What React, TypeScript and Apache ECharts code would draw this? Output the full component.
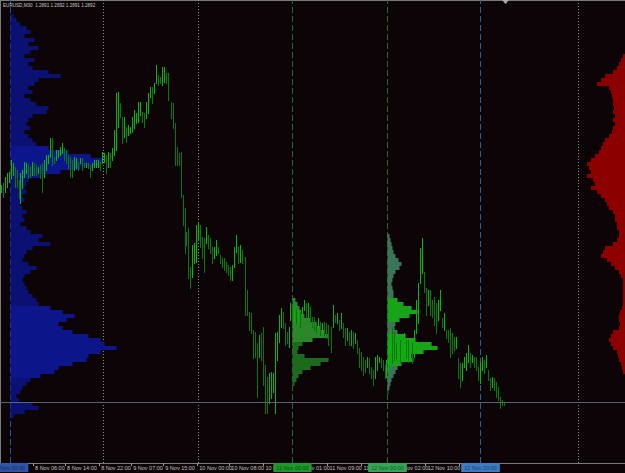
import { useEffect, useRef } from "react";
import * as echarts from "echarts";

// ---------- data ----------
const SLOT_COUNT = 312; // bar slots across the window (M30 bars)

const barHigh = [
  1.3107, 1.3109, 1.3115, 1.3119, 1.3120, 1.3132, 1.3129, 1.3125, 1.3122, 1.3112,
  1.3119, 1.3122, 1.3130, 1.3129, 1.3127, 1.3125, 1.3130, 1.3129, 1.3127, 1.3125,
  1.3127, 1.3129, 1.3132, 1.3137, 1.3137, 1.3154, 1.3154, 1.3135, 1.3142, 1.3142,
  1.3145, 1.3149, 1.3144, 1.3142, 1.3137, 1.3135, 1.3132, 1.3135, 1.3134, 1.3130,
  1.3134, 1.3134, 1.3129, 1.3129, 1.3129, 1.3127, 1.3129, 1.3132, 1.3132, 1.3132,
  1.3130, 1.3140, 1.3139, 1.3137, 1.3140, 1.3139, 1.3144, 1.3162, 1.3199, 1.3200,
  1.3189, 1.3175, 1.3175, 1.3165, 1.3167, 1.3165, 1.3175, 1.3182, 1.3179, 1.3190,
  1.3190, 1.3180, 1.3179, 1.3190, 1.3199, 1.3205, 1.3205, 1.3209, 1.3227, 1.3217,
  1.3215, 1.3225, 1.3225, 1.3219, 1.3219, 1.3190, 1.3189, 1.3169, 1.3145, 1.3139,
  1.3140, 1.3097, 1.3084, 1.3060, 1.3064, 1.3025, 1.3047, 1.3049, 1.3067, 1.3070,
  1.3067, 1.3055, 1.3054, 1.3065, 1.3057, 1.3054, 1.3045, 1.3045, 1.3052, 1.3045,
  1.3037, 1.3034, 1.3034, 1.3030, 1.3027, 1.3025, 1.3027, 1.3045, 1.3057, 1.3045,
  1.3047, 1.3042, 1.3035, 1.3002, 1.2980, 1.2979, 1.2962, 1.2960, 1.2949, 1.2957,
  1.2959, 1.2965, 1.2927, 1.2915, 1.2919, 1.2920, 1.2919, 1.2959, 1.2960, 1.2977,
  1.2984, 1.2980, 1.2969, 1.2960, 1.2965, 1.2989, 1.2984, 1.2985, 1.2982, 1.2984,
  1.2980, 1.2985, 1.2992, 1.2989, 1.2989, 1.2985, 1.2975, 1.2975, 1.2970, 1.2974,
  1.2970, 1.2969, 1.2970, 1.2969, 1.2967, 1.2965, 1.2987, 1.2977, 1.2979, 1.2972,
  1.2979, 1.2969, 1.2964, 1.2964, 1.2960, 1.2962, 1.2960, 1.2959, 1.2952, 1.2944,
  1.2940, 1.2935, 1.2932, 1.2935, 1.2934, 1.2925, 1.2922, 1.2935, 1.2937, 1.2935,
  1.2934, 1.2932, 1.2927, 1.2932, 1.2949, 1.2962, 1.2965, 1.2960, 1.2949, 1.2952,
  1.2952, 1.2957, 1.2959, 1.2952, 1.2952, 1.2952, 1.2949, 1.2962, 1.2992, 1.3009,
  1.3044, 1.3054, 1.3020, 1.3004, 1.3002, 1.3002, 1.2992, 1.2995, 1.2989, 1.2992,
  1.3002, 1.2974, 1.2979, 1.2962, 1.2962, 1.2964, 1.2959, 1.2955, 1.2955, 1.2934,
  1.2929, 1.2929, 1.2935, 1.2939, 1.2947, 1.2939, 1.2937, 1.2935, 1.2935, 1.2925,
  1.2930, 1.2935, 1.2932, 1.2937, 1.2922, 1.2914, 1.2915, 1.2914, 1.2910, 1.2905,
  1.2895, 1.2892, 1.2890,
];

const barLow = [
  1.3100, 1.3095, 1.3100, 1.3105, 1.3110, 1.3114, 1.3117, 1.3105, 1.3105, 1.3094,
  1.3089, 1.3104, 1.3115, 1.3119, 1.3114, 1.3115, 1.3117, 1.3117, 1.3117, 1.3119,
  1.3114, 1.3100, 1.3115, 1.3122, 1.3129, 1.3135, 1.3127, 1.3129, 1.3132, 1.3135,
  1.3137, 1.3139, 1.3132, 1.3129, 1.3124, 1.3115, 1.3115, 1.3122, 1.3124, 1.3122,
  1.3129, 1.3122, 1.3125, 1.3125, 1.3124, 1.3115, 1.3122, 1.3125, 1.3125, 1.3125,
  1.3122, 1.3129, 1.3130, 1.3119, 1.3125, 1.3125, 1.3132, 1.3137, 1.3142, 1.3165,
  1.3175, 1.3149, 1.3155, 1.3150, 1.3157, 1.3159, 1.3160, 1.3164, 1.3169, 1.3170,
  1.3177, 1.3170, 1.3165, 1.3174, 1.3179, 1.3195, 1.3189, 1.3199, 1.3209, 1.3207,
  1.3209, 1.3207, 1.3210, 1.3209, 1.3192, 1.3174, 1.3164, 1.3127, 1.3127, 1.3127,
  1.3095, 1.3067, 1.3039, 1.3047, 1.3014, 1.3004, 1.3015, 1.3029, 1.3030, 1.3052,
  1.3045, 1.3034, 1.3020, 1.3049, 1.3044, 1.3039, 1.3029, 1.3034, 1.3037, 1.3039,
  1.3029, 1.3025, 1.3022, 1.3020, 1.3017, 1.3012, 1.3012, 1.3025, 1.3040, 1.3029,
  1.3030, 1.3029, 1.2977, 1.2977, 1.2962, 1.2959, 1.2934, 1.2935, 1.2895, 1.2935,
  1.2932, 1.2907, 1.2879, 1.2879, 1.2889, 1.2894, 1.2900, 1.2879, 1.2932, 1.2950,
  1.2965, 1.2964, 1.2947, 1.2949, 1.2945, 1.2972, 1.2967, 1.2970, 1.2969, 1.2970,
  1.2965, 1.2977, 1.2982, 1.2974, 1.2974, 1.2970, 1.2965, 1.2962, 1.2959, 1.2962,
  1.2957, 1.2959, 1.2957, 1.2954, 1.2947, 1.2940, 1.2965, 1.2970, 1.2969, 1.2962,
  1.2964, 1.2955, 1.2947, 1.2952, 1.2947, 1.2947, 1.2944, 1.2949, 1.2939, 1.2925,
  1.2922, 1.2917, 1.2920, 1.2925, 1.2919, 1.2914, 1.2907, 1.2914, 1.2922, 1.2930,
  1.2925, 1.2922, 1.2914, 1.2915, 1.2922, 1.2942, 1.2929, 1.2932, 1.2934, 1.2934,
  1.2930, 1.2934, 1.2937, 1.2935, 1.2930, 1.2935, 1.2929, 1.2935, 1.2959, 1.2969,
  1.3009, 1.3019, 1.3000, 1.2977, 1.2987, 1.2977, 1.2975, 1.2967, 1.2959, 1.2972,
  1.2982, 1.2965, 1.2962, 1.2954, 1.2950, 1.2935, 1.2939, 1.2942, 1.2944, 1.2914,
  1.2905, 1.2912, 1.2925, 1.2922, 1.2930, 1.2925, 1.2930, 1.2925, 1.2922, 1.2912,
  1.2909, 1.2922, 1.2919, 1.2925, 1.2912, 1.2902, 1.2905, 1.2902, 1.2895, 1.2892,
  1.2884, 1.2887, 1.2887,
];

const tickSlots = [16, 32, 49, 65, 81, 98, 114, 131, 147, 163, 180, 196, 212, 229, 245];
const tickLabels = [
  "8 Nov 06:00", "8 Nov 14:00", "8 Nov 22:00", "9 Nov 07:00", "9 Nov 15:00",
  "10 Nov 00:00", "10 Nov 08:00", "10 Nov 16:00", "11 Nov 01:00", "11 Nov 09:00",
  "11 Nov 17:00", "12 Nov 02:00", "12 Nov 10:00", "12 Nov 18:00", "13 Nov 03:00",
];

// volume profiles: rows every 0.0004 starting at the given top price
const PROFILE_STEP = 0.0004;
const blueProfileTop = 1.3276;
const blueProfile = [
  3, 6, 10, 16, 20, 14, 24, 18, 28, 20,
  14, 24, 18, 22, 38, 50, 28, 24, 18, 22,
  14, 20, 26, 38, 36, 22, 18, 16, 20, 14,
  18, 22, 26, 38, 58, 80, 92, 90, 70, 50,
  30, 18, 16, 14, 16, 12, 14, 10, 12, 16,
  12, 14, 10, 16, 20, 32, 28, 40, 22, 16,
  14, 12, 18, 26, 20, 14, 12, 14, 16, 18,
  22, 26, 28, 40, 52, 64, 56, 48, 52, 62,
  78, 90, 94, 106, 90, 78, 76, 62, 48, 44,
  30, 20, 16, 12, 10, 6, 8, 22, 28, 14,
  3,
];
const redProfileTop = 1.3236;
const redProfile = [
  2, 4, 6, 8, 12, 20, 24, 28, 16, 14,
  13, 12, 12, 11, 12, 10, 12, 10, 12, 13,
  16, 20, 22, 24, 26, 30, 34, 38, 36, 34,
  38, 32, 30, 34, 28, 24, 20, 18, 16, 12,
  10, 10, 8, 8, 6, 6, 8, 12, 20, 22,
  24, 18, 14, 10, 6, 4, 2, 2, 2, 2,
  2, 2, 2, 3, 5, 6, 6, 5, 6, 12,
  14, 16, 14, 12, 8, 7, 6, 4, 3, 2,
];
const greenProfile1Top = 1.2992;
const greenProfile1 = [3, 5, 7, 9, 12, 18, 24, 28, 32, 36, 20, 10, 6, 5, 12, 36, 28, 18, 10, 6, 4, 2];
const greenProfile2Top = 1.3056;
const greenProfile2 = [
  2, 3, 4, 5, 6, 8, 11, 14, 12, 8,
  6, 5, 4, 5, 6, 6, 10, 16, 24, 30,
  22, 12, 8, 7, 10, 18, 28, 44, 50, 36,
  24, 26, 14, 10, 8, 6, 4, 3, 2, 1,
];

const bidPrice = 1.289;
const titleText = "EURUSD,M30  1.2891 1.2892 1.2891 1.2892";
const sessionLabels = ["8 Nov 00:00", "11 Nov 00:00", "12 Nov 00:00", "12 Nov 20:00"];

// ---------- layout / style ----------
const PRICE_MIN = 1.2829;
const PRICE_MAX = 1.3292;
const VOL_SCALE = 0.5; // slots per volume unit
const BG = "#0c0406";
const FONT = "Liberation Sans";
const BAR_UP = "#06b806";
const BAR_DOWN = "#047c04";
// slot ranges whose bars sit one pixel column to the right
const shiftedSlotRanges = [[0, 9], [85, 92], [122, 144], [165, 192]];
const gridSlots = [51.17, 98.59, 288.29];
const sessionStyles = [
  { slot: 4.74, line: "#2b4f9a", bg: "#2f55a8", fg: "#10285e" },
  { slot: 145.52, line: "#1d6a32", bg: "#1f9a2a", fg: "#0b4a12" },
  { slot: 192.94, line: "#1d6a32", bg: "#35a656", fg: "#0f5426" },
  { slot: 239.37, line: "#2c5f94", bg: "#3d7cc4", fg: "#17406f" },
];

function profileSeries(
  vols: number[],
  top: number,
  anchor: number,
  dir: number,
  color: (p: number) => string,
  z: number
) {
  return {
    type: "custom",
    xAxisIndex: 1,
    yAxisIndex: 0,
    z,
    silent: true,
    data: vols.map((v, k) => [v, +(top - k * PROFILE_STEP).toFixed(4)]),
    encode: { x: 0, y: 1 },
    renderItem: (_params: any, api: any) => {
      const v = api.value(0);
      const p = api.value(1);
      const a = api.coord([anchor, p + PROFILE_STEP / 2]);
      const b = api.coord([anchor + dir * v * VOL_SCALE, p - PROFILE_STEP / 2]);
      return {
        type: "rect",
        shape: {
          x: Math.min(a[0], b[0]),
          y: a[1],
          width: Math.abs(b[0] - a[0]),
          height: b[1] - a[1],
        },
        style: { fill: color(p) },
      };
    },
  };
}

export default function App() {
  const ref = useRef<HTMLDivElement>(null);

  useEffect(() => {
    document.body.style.margin = "0";
    document.body.style.background = BG;
    const chart = echarts.init(ref.current!, null, { renderer: "svg" });

    const categories = Array.from({ length: SLOT_COUNT }, (_, i) => String(i));
    const showTick = (index: number) => tickSlots.indexOf(index) >= 0;
    const isShifted = (i: number) => shiftedSlotRanges.some(([a, b]) => i >= a && i <= b);

    const option: any = {
      animation: false,
      backgroundColor: BG,
      title: {
        text: titleText,
        left: 3,
        top: 3,
        padding: 0,
        textStyle: { color: "#c4c4c4", fontSize: 4.6, fontWeight: "normal", fontFamily: FONT },
      },
      grid: { left: 0, right: 0, top: 0, bottom: 10, containLabel: false },
      xAxis: [
        {
          type: "category",
          data: categories,
          boundaryGap: true,
          position: "bottom",
          axisLine: { show: true, lineStyle: { color: "#7a7a7a", width: 1 } },
          axisTick: {
            show: true,
            interval: (index: number) => showTick(index),
            alignWithLabel: true,
            length: 3,
            lineStyle: { color: "#9a9a9a" },
          },
          axisLabel: {
            show: true,
            interval: (index: number) => showTick(index),
            formatter: (_v: string, index: number) => {
              const k = tickSlots.indexOf(index);
              return k >= 0 ? tickLabels[k] : "";
            },
            align: "left",
            margin: 2,
            color: "#c0c0c0",
            fontSize: 5.5,
            fontFamily: FONT,
            padding: [0, 0, 0, 2],
          },
          splitLine: { show: false },
        },
        {
          type: "value",
          min: -0.5,
          max: SLOT_COUNT - 0.5,
          position: "top",
          axisLine: { show: true, onZero: false, lineStyle: { color: "#7a7a7a", width: 1 } },
          axisTick: { show: false },
          axisLabel: { show: false },
          splitLine: { show: false },
        },
      ],
      yAxis: [
        {
          type: "value",
          min: PRICE_MIN,
          max: PRICE_MAX,
          position: "left",
          axisLine: { show: true, onZero: false, lineStyle: { color: "#7a7a7a", width: 1 } },
          axisTick: { show: false },
          axisLabel: { show: false },
          splitLine: { show: false },
        },
      ],
      series: [
        {
          type: "line",
          xAxisIndex: 1,
          yAxisIndex: 0,
          data: [[0, PRICE_MIN]],
          symbol: "none",
          lineStyle: { opacity: 0 },
          silent: true,
          clip: false,
          z: 1,
          markLine: {
            silent: true,
            z: 1,
            precision: 4,
            symbol: ["none", "none"],
            animation: false,
            data: [
              ...gridSlots.map((s) => ({
                xAxis: s,
                lineStyle: { color: "#8a8a8a", type: [1, 2], width: 1 },
                label: { show: false },
              })),
              ...sessionStyles.map((s, k) => ({
                xAxis: s.slot,
                lineStyle: { color: s.line, type: [6, 3], width: 1 },
                label: {
                  show: true,
                  position: "start",
                  formatter: sessionLabels[k],
                  backgroundColor: s.bg,
                  color: s.fg,
                  fontSize: 5.5,
                  fontFamily: FONT,
                  padding: [2, 3, 1, 3],
                  distance: 0,
                },
              })),
            ],
          },
        },
        profileSeries(blueProfile, blueProfileTop, 4.74, 1, (p) =>
          (p <= 1.3146 && p >= 1.3114) || (p <= 1.2986 && p >= 1.2914) ? "#0c168a" : "#0a1172", 2),
        profileSeries(redProfile, redProfileTop, SLOT_COUNT - 0.5, -1, () => "#8c0000", 2),
        profileSeries(
          greenProfile1,
          greenProfile1Top,
          145.52,
          1,
          (p) => (p > 1.2948 ? "#2a882a" : "#1d6a1d"),
          2
        ),
        profileSeries(
          greenProfile2,
          greenProfile2Top,
          192.94,
          1,
          (p) =>
            (p <= 1.2992 && p >= 1.2970) || (p <= 1.2956 && p >= 1.2926) ? "#18a418" : "#3a7558",
          2
        ),
        {
          type: "custom",
          xAxisIndex: 0,
          yAxisIndex: 0,
          z: 4,
          silent: true,
          data: barHigh.map((h, i) => [i, h, barLow[i]]),
          encode: { x: 0, y: [1, 2] },
          renderItem: (_params: any, api: any) => {
            const i = api.value(0);
            const h = api.value(1);
            const l = api.value(2);
            const top = api.coord([i, h]);
            const bot = api.coord([i, l]);
            const col = 2 * Math.floor(top[0] / 2) + (isShifted(i) ? 1 : 0);
            const x = col + 0.5;
            const up = i === 0 || h + l >= barHigh[i - 1] + barLow[i - 1];
            return {
              type: "line",
              shape: { x1: x, y1: top[1], x2: x, y2: bot[1] + 1 },
              style: { stroke: up ? BAR_UP : BAR_DOWN, lineWidth: 1 },
            };
          },
        },
        {
          type: "line",
          xAxisIndex: 1,
          yAxisIndex: 0,
          data: [[0, PRICE_MIN]],
          symbol: "none",
          lineStyle: { opacity: 0 },
          silent: true,
          z: 10,
          markLine: {
            silent: true,
            z: 10,
            precision: 4,
            symbol: ["none", "none"],
            animation: false,
            data: [
              {
                yAxis: bidPrice,
                lineStyle: { color: "#56646f", type: "solid", width: 1 },
                label: { show: false },
              },
            ],
          },
        },
      ],
      graphic: [
        {
          type: "polygon",
          shape: { points: [[502, 0], [509, 0], [505.5, 4]] },
          style: { fill: "#a8a8a8" },
          z: 20,
        },
      ],
    };

    chart.setOption(option);
    return () => chart.dispose();
  }, []);

  return <div ref={ref} style={{ width: 625, height: 473 }} />;
}
